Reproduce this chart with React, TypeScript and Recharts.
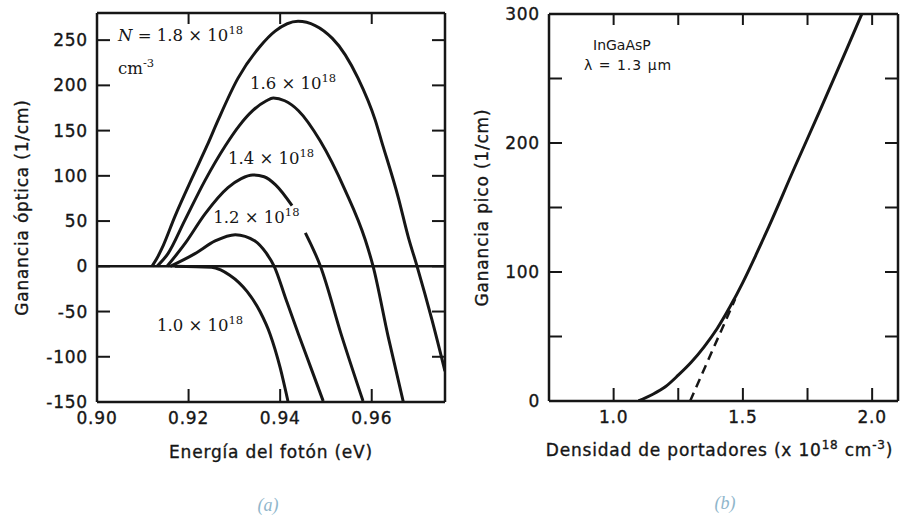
import { LineChart, Line, XAxis, YAxis, ReferenceLine, ReferenceDot } from 'recharts'

// (a) gain spectra for several carrier densities
const energyTicks = [0.9, 0.92, 0.94, 0.96]
const gainTicks = [-150, -100, -50, 0, 50, 100, 150, 200, 250]

const e18 = [0.912, 0.913, 0.9142, 0.917, 0.9208, 0.924, 0.9264, 0.9308, 0.9356, 0.9389, 0.9439, 0.9514, 0.957, 0.9608, 0.9621, 0.9658, 0.968, 0.9699, 0.9732, 0.976]
const g18 = [0, 8, 20, 55, 98, 133, 161, 208, 243, 260, 271, 252, 208, 161, 139, 76, 32, 0, -60, -116]
const e16 = [0.9131, 0.9155, 0.9192, 0.9236, 0.928, 0.931, 0.934, 0.937, 0.9385, 0.941, 0.944, 0.9487, 0.9542, 0.9586, 0.9603, 0.9636, 0.9669]
const g16 = [0, 14, 51, 95, 133, 155, 172, 183, 186, 183, 172, 139, 84, 29, 0, -78, -150]
const e14 = [0.9153, 0.9192, 0.9236, 0.9286, 0.9315, 0.934, 0.9365, 0.939, 0.9426, 0.944, 0.9455, 0.9488, 0.9535, 0.9581]
const g14 = [0, 25, 58, 87, 97, 101, 99, 90, 67, null, 37, 0, -78, -149]
const e12 = [0.916, 0.9214, 0.9258, 0.9302, 0.9345, 0.9369, 0.9387, 0.9413, 0.944, 0.9467, 0.9494]
const g12 = [0, 14, 28, 35, 28, 15, 0, -37, -75, -112, -149]
const e10 = [0.917, 0.925, 0.927, 0.929, 0.931, 0.9328, 0.9356, 0.9378, 0.94, 0.9417]
const g10 = [0, -1, -4, -10, -18, -28, -50, -75, -112, -149]

const curveNames = ['1.8', '1.6', '1.4', '1.2', '1.0']
const labelE = [0.9046, 0.9334, 0.9286, 0.9254, 0.9131]
const labelG = [256, 203, 120, 54, -65]

// (b) peak gain vs carrier density
const densTicks = [1.0, 1.25, 1.5, 1.75, 2.0]
const peakTicks = [0, 50, 100, 150, 200, 250, 300]
const densSolid = [1.096, 1.15, 1.2, 1.25, 1.3, 1.35, 1.4, 1.45, 1.5, 1.55, 1.6, 1.7, 1.8, 1.9, 1.96]
const gainSolid = [0, 5, 11, 20, 30, 42, 56, 73, 92, 113, 135, 181, 226, 272, 300]
const densDash = [1.296, 1.47]
const gainDash = [0, 79]

const INK = '#161616'
const SANS = '"DejaVu Sans", sans-serif'
const SERIF = '"DejaVu Serif", serif'
const TICK = 13

const pts = (xs: number[], ys: (number | null)[]) => xs.map((x, i) => ({ x, y: ys[i] }))

const numText = { fontFamily: SANS, fontSize: 17, letterSpacing: 0.8, fill: INK, stroke: INK, strokeWidth: 0.35 }
const titleText = { fontFamily: SANS, fontSize: 17, letterSpacing: 0.8, fill: INK, stroke: INK, strokeWidth: 0.35 }

type Side = 'left' | 'right' | 'top' | 'bottom'
const makeTick = (side: Side, fmt?: (v: number) => string) => (p: any) => {
  const { x, y, payload } = p
  const v = payload.value as number
  const label = fmt ? fmt(v) : ''
  let x2 = x
  let y2 = y
  if (side === 'left') x2 = x + TICK
  if (side === 'right') x2 = x - TICK
  if (side === 'top') y2 = y + TICK - 2
  if (side === 'bottom') y2 = y - TICK
  return (
    <g>
      <line x1={x} y1={y} x2={x2} y2={y2} stroke={INK} strokeWidth={2} />
      {label && side === 'left' && (
        <text x={x - 9} y={y} dy="0.36em" textAnchor="end" {...numText}>{label}</text>
      )}
      {label && side === 'bottom' && (
        <text x={x} y={y + 16} dy="0.36em" textAnchor="middle" {...numText}>{label}</text>
      )}
    </g>
  )
}

const yTitle = (text: string) => (p: any) => {
  const { x, y, height } = p.viewBox
  const cx = x + 22
  const cy = y + height / 2
  return (
    <text x={cx} y={cy} dy="0.36em" transform={`rotate(-90 ${cx} ${cy})`} textAnchor="middle" {...titleText}>
      {text}
    </text>
  )
}

const xTitleA = (p: any) => {
  const { x, y, width } = p.viewBox
  return (
    <text x={x + width / 2} y={y + 50} dy="0.36em" textAnchor="middle" {...titleText}>
      Energía del fotón (eV)
    </text>
  )
}

const xTitleB = (p: any) => {
  const { x, y, width } = p.viewBox
  return (
    <text x={x + width / 2 - 4} y={y + 49} dy="0.36em" textAnchor="middle" {...titleText}>
      <tspan>Densidad de portadores (x 10</tspan>
      <tspan dy={-7} fontSize={12}>18</tspan>
      <tspan dy={7}> cm</tspan>
      <tspan dy={-7} fontSize={12}>-3</tspan>
      <tspan dy={7}>)</tspan>
    </text>
  )
}

const sciLabel = (name: string, withN: boolean) => (p: any) => {
  const { x, y } = p.viewBox
  return (
    <text x={x} y={y} dy="0.36em" fontFamily={SERIF} fontSize={16.5} fill={INK}>
      {withN && <tspan fontStyle="italic">N</tspan>}
      <tspan>{withN ? ` = ${name} × 10` : `${name} × 10`}</tspan>
      <tspan dy={-7} fontSize={11.5}>18</tspan>
    </text>
  )
}

const unitLabel = (p: any) => {
  const { x, y } = p.viewBox
  return (
    <text x={x} y={y} dy="0.36em" fontFamily={SERIF} fontSize={16.5} fill={INK}>
      <tspan>cm</tspan>
      <tspan dy={-7} fontSize={11.5}>-3</tspan>
    </text>
  )
}

const centerText = (text: string, spacing: number) => (p: any) => {
  const { x, y } = p.viewBox
  return (
    <text x={x} y={y} dy="0.36em" textAnchor="middle" fontFamily={SANS} fontSize={14} letterSpacing={spacing} fill={INK}>{text}</text>
  )
}

const frame = { stroke: INK, strokeWidth: 2.5 }

function PanelA() {
  const series = [pts(e18, g18), pts(e16, g16), pts(e14, g14), pts(e12, g12), pts(e10, g10)]
  return (
    <LineChart width={460} height={517} margin={{ top: 12, right: 14, bottom: 0, left: 0 }}>
      <XAxis xAxisId="m" dataKey="x" type="number" domain={[0.9, 0.976]} allowDataOverflow ticks={energyTicks} interval={0}
        height={115} tickSize={0} tickMargin={0} axisLine={frame} tickLine={false}
        tick={makeTick('bottom', (v) => v.toFixed(2))} label={xTitleA} />
      <XAxis xAxisId="t" orientation="top" dataKey="x" type="number" domain={[0.9, 0.976]} allowDataOverflow ticks={energyTicks.slice(1)} interval={0}
        height={1} tickSize={0} tickMargin={0} axisLine={frame} tickLine={false} tick={makeTick('top')} />
      <YAxis yAxisId="m" type="number" domain={[-150, 280]} allowDataOverflow ticks={gainTicks} interval={0}
        width={97} tickSize={0} tickMargin={0} axisLine={frame} tickLine={false}
        tick={makeTick('left', (v) => String(v))} label={yTitle('Ganancia óptica (1/cm)')} />
      <YAxis yAxisId="r" orientation="right" type="number" domain={[-150, 280]} allowDataOverflow ticks={gainTicks} interval={0}
        width={1} tickSize={0} tickMargin={0} axisLine={frame} tickLine={false} tick={makeTick('right')} />
      <Line xAxisId="t" yAxisId="r" data={series[0]} dataKey="y" stroke="none" dot={false} isAnimationActive={false} />
      <ReferenceLine xAxisId="m" yAxisId="m" y={0} stroke={INK} strokeWidth={2.5} />
      {series.map((d, i) => (
        <Line key={curveNames[i]} xAxisId="m" yAxisId="m" data={d} dataKey="y" type="monotone"
          stroke={INK} strokeWidth={3} dot={false} isAnimationActive={false} />
      ))}
      {curveNames.map((n, i) => (
        <ReferenceDot key={'l' + n} xAxisId="m" yAxisId="m" x={labelE[i]} y={labelG[i]} r={0}
          fill="none" stroke="none" label={sciLabel(n, i === 0)} />
      ))}
      <ReferenceDot xAxisId="m" yAxisId="m" x={0.9046} y={219} r={0} fill="none" stroke="none" label={unitLabel} />
    </LineChart>
  )
}

function PanelB() {
  const solid = pts(densSolid, gainSolid)
  return (
    <LineChart width={440} height={517} margin={{ top: 13, right: 1, bottom: 0, left: 0 }}>
      <XAxis xAxisId="m" dataKey="x" type="number" domain={[0.75, 2.1]} allowDataOverflow ticks={densTicks} interval={0}
        height={116} tickSize={0} tickMargin={0} axisLine={frame} tickLine={false}
        tick={makeTick('bottom', (v) => (Math.round(v * 2) === v * 2 ? v.toFixed(1) : ''))} label={xTitleB} />
      <XAxis xAxisId="t" orientation="top" dataKey="x" type="number" domain={[0.75, 2.1]} allowDataOverflow ticks={densTicks} interval={0}
        height={1} tickSize={0} tickMargin={0} axisLine={frame} tickLine={false} tick={makeTick('top')} />
      <YAxis yAxisId="m" type="number" domain={[0, 300]} allowDataOverflow ticks={peakTicks} interval={0}
        width={89} tickSize={0} tickMargin={0} axisLine={frame} tickLine={false}
        tick={makeTick('left', (v) => (v % 100 === 0 ? String(v) : ''))} label={yTitle('Ganancia pico (1/cm)')} />
      <YAxis yAxisId="r" orientation="right" type="number" domain={[0, 300]} allowDataOverflow ticks={peakTicks.slice(1)} interval={0}
        width={1} tickSize={0} tickMargin={0} axisLine={frame} tickLine={false} tick={makeTick('right')} />
      <Line xAxisId="t" yAxisId="r" data={solid} dataKey="y" stroke="none" dot={false} isAnimationActive={false} />
      <Line xAxisId="m" yAxisId="m" data={solid} dataKey="y" type="monotone"
        stroke={INK} strokeWidth={3} dot={false} isAnimationActive={false} />
      <Line xAxisId="m" yAxisId="m" data={pts(densDash, gainDash)} dataKey="y" type="linear"
        stroke={INK} strokeWidth={2.5} strokeDasharray="9 6" dot={false} isAnimationActive={false} />
      <ReferenceDot xAxisId="m" yAxisId="m" x={1.032} y={276} r={0} fill="none" stroke="none" label={centerText('InGaAsP', 0)} />
      <ReferenceDot xAxisId="m" yAxisId="m" x={1.056} y={260.5} r={0} fill="none" stroke="none" label={centerText('λ = 1.3 µm', 1)} />
    </LineChart>
  )
}

const panelTag = { position: 'absolute' as const, transform: 'translate(-50%, -50%)', fontFamily: '"Liberation Serif", serif', fontStyle: 'italic', fontSize: 18, color: '#8fb6cb' }

export default function App() {
  return (
    <div style={{ position: 'relative', width: 900, height: 517, background: '#fff' }}>
      <style>{'body{margin:0}'}</style>
      <div style={{ position: 'absolute', left: 0, top: 0 }}><PanelA /></div>
      <div style={{ position: 'absolute', left: 460, top: 0 }}><PanelB /></div>
      <span style={{ ...panelTag, left: 268, top: 505 }}>(a)</span>
      <span style={{ ...panelTag, left: 725, top: 503 }}>(b)</span>
    </div>
  )
}
